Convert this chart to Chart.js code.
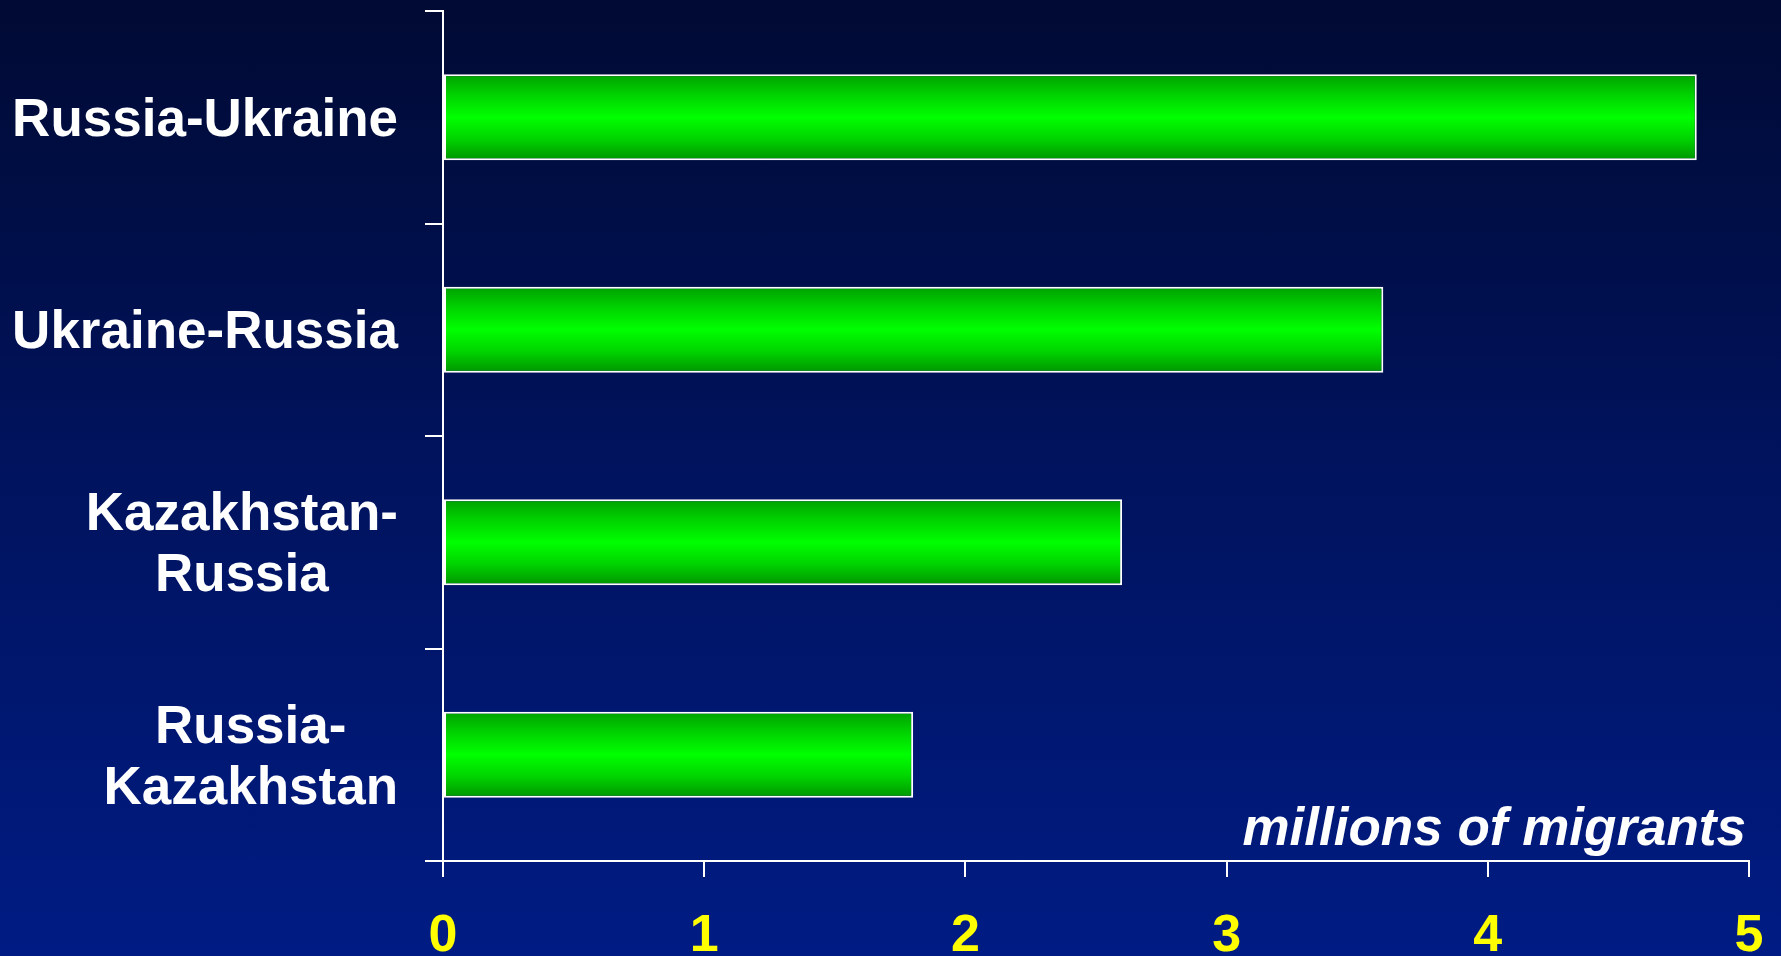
<!DOCTYPE html>
<html>
<head>
<meta charset="utf-8">
<script src="https://cdn.jsdelivr.net/npm/chart.js@4.4.1/dist/chart.umd.min.js"></script>
<style>
    html, body {
        margin: 0;
        padding: 0;
        overflow: hidden;
    }
    body {
        width: 1781px;
        height: 956px;
        background: linear-gradient(to bottom, #000a33 0%, #00125a 45%, #001c84 100%);
    }
    #chart-wrap {
        position: relative;
        width: 1781px;
        height: 956px;
    }
</style>
</head>
<body>
<div id="chart-wrap"><canvas id="chart-container"></canvas></div>
<script>
// Chart data
const categories = [
    ['Russia-Ukraine'],
    ['Ukraine-Russia'],
    ['Kazakhstan-', 'Russia'],
    ['Russia-', 'Kazakhstan']
];
const migrants = [4.8, 3.6, 2.6, 1.8];
const xTicks = [0, 1, 2, 3, 4, 5];
const unitLabel = 'millions of migrants';

const FONT = "'Liberation Sans', Arial, Helvetica, sans-serif";
const BAR_PCT = 0.405;

// vertical green gradient for each bar, built from the y scale
function barFill(context) {
    const chart = context.chart;
    const yScale = chart.scales.y;
    if (!yScale || context.type !== 'data') return '#00ff00';
    const band = (yScale.bottom - yScale.top) / categories.length;
    const half = band * BAR_PCT / 2;
    const c = yScale.getPixelForValue(context.dataIndex);
    if (!isFinite(c) || !isFinite(half) || half <= 0) return '#00ff00';
    const g = chart.ctx.createLinearGradient(0, c - half, 0, c + half);
    g.addColorStop(0, '#00a000');
    g.addColorStop(0.25, '#00d400');
    g.addColorStop(0.5, '#00ff00');
    g.addColorStop(0.75, '#00d400');
    g.addColorStop(1, '#009400');
    return g;
}

// category labels: each block right-aligned, lines centred within the block
const categoryLabels = {
    id: 'categoryLabels',
    afterDraw(chart) {
        const ctx = chart.ctx;
        const yScale = chart.scales.y;
        const right = chart.chartArea.left - 45;
        const lineHeight = 61;
        ctx.save();
        ctx.font = 'bold 53px ' + FONT;
        ctx.fillStyle = '#ffffff';
        ctx.textAlign = 'center';
        ctx.textBaseline = 'middle';
        categories.forEach((lines, i) => {
            const widest = Math.max(...lines.map(l => ctx.measureText(l).width));
            const cx = right - widest / 2;
            const cy = yScale.getPixelForValue(i) + 4;
            lines.forEach((line, j) => {
                const ly = cy + (j - (lines.length - 1) / 2) * lineHeight;
                ctx.fillText(line, cx, ly);
            });
        });
        ctx.restore();
    }
};

const unitText = {
    id: 'unitText',
    afterDraw(chart) {
        const ctx = chart.ctx;
        const area = chart.chartArea;
        ctx.save();
        ctx.font = 'italic bold 53px ' + FONT;
        ctx.fillStyle = '#ffffff';
        ctx.textAlign = 'right';
        ctx.textBaseline = 'alphabetic';
        ctx.fillText(unitLabel, area.right - 3, area.bottom - 16);
        ctx.restore();
    }
};

const ctx = document.getElementById('chart-container').getContext('2d');
const chart = new Chart(ctx, {
    type: 'bar',
    data: {
        labels: categories,
        datasets: [{
            data: migrants,
            backgroundColor: barFill,
            borderColor: '#ffffff',
            borderWidth: 2,
            borderSkipped: false,
            categoryPercentage: 1,
            barPercentage: BAR_PCT
        }]
    },
    options: {
        indexAxis: 'y',
        responsive: true,
        maintainAspectRatio: false,
        animation: false,
        layout: {
            padding: { top: 11, right: 32, left: 0, bottom: 0 }
        },
        plugins: {
            legend: { display: false },
            tooltip: { enabled: false }
        },
        scales: {
            x: {
                min: xTicks[0],
                max: xTicks[xTicks.length - 1],
                afterBuildTicks: scale => {
                    scale.ticks = xTicks.map(v => ({ value: v }));
                },
                afterFit: scale => {
                    scale.height = 95;
                    scale.paddingLeft = 0;
                    scale.paddingRight = 0;
                },
                ticks: {
                    color: '#ffff00',
                    padding: 28,
                    maxRotation: 0,
                    font: { family: FONT, weight: 'bold', size: 52 }
                },
                grid: {
                    drawOnChartArea: false,
                    color: '#ffffff',
                    lineWidth: 2,
                    tickLength: 16
                },
                border: { color: '#ffffff', width: 2 }
            },
            y: {
                afterFit: scale => { scale.width = 443; },
                ticks: { display: false },
                grid: {
                    offset: true,
                    drawOnChartArea: false,
                    color: '#ffffff',
                    lineWidth: 2,
                    tickLength: 18
                },
                border: { color: '#ffffff', width: 2 }
            }
        }
    },
    plugins: [categoryLabels, unitText]
});
// redraw once layout is known so the bar gradients use real positions
chart.update();
</script>
</body>
</html>
